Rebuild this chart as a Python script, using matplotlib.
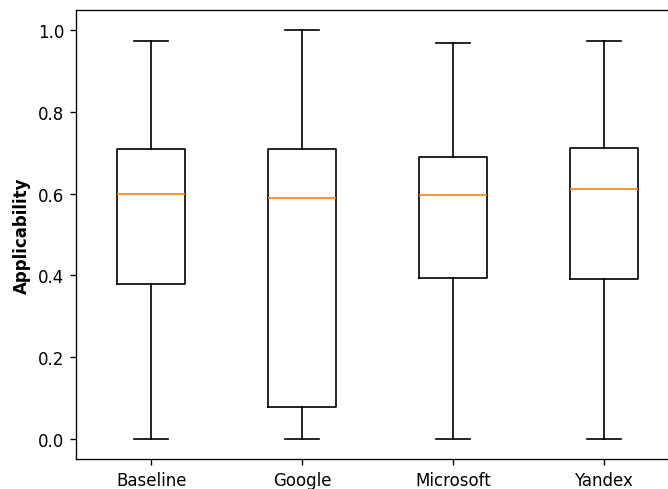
import matplotlib
matplotlib.use("Agg")
import matplotlib.pyplot as plt

labels = ["Baseline", "Google", "Microsoft", "Yandex"]
whislo = [0.0, 0.0, 0.0, 0.0]
q1 = [0.378, 0.077, 0.394, 0.391]
med = [0.598, 0.589, 0.596, 0.611]
q3 = [0.709, 0.709, 0.691, 0.712]
whishi = [0.974, 1.0, 0.968, 0.974]

stats = []
for i in range(len(labels)):
    stats.append({"label": labels[i], "whislo": whislo[i], "q1": q1[i],
                  "med": med[i], "q3": q3[i], "whishi": whishi[i], "fliers": []})

# reference looks rendered at 120 dpi
fig = plt.figure(figsize=(668 / 120, 490 / 120), dpi=120)
# right edge of the axes runs past the picture, as in the reference
ax = fig.add_axes([76 / 668, 30 / 490, 603 / 668, 449 / 490])
ax.bxp(stats, showfliers=False)
ax.set_ylabel("Applicability", fontweight="bold")

fig.savefig("out.png", dpi=120)
